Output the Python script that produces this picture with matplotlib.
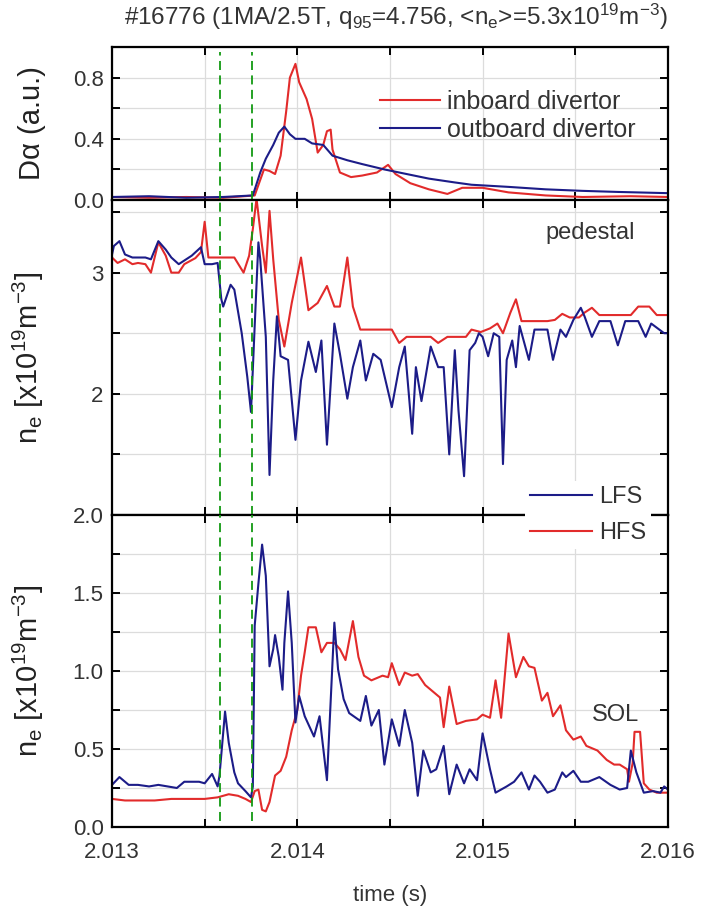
import numpy as np
import matplotlib
matplotlib.use("Agg")
import matplotlib.pyplot as plt
from matplotlib.ticker import MultipleLocator, FixedLocator, FormatStrFormatter

plt.rcParams['font.family'] = ['Liberation Sans', 'DejaVu Sans']
plt.rcParams['mathtext.fontset'] = 'custom'
plt.rcParams['mathtext.rm'] = 'Liberation Sans'
plt.rcParams['mathtext.it'] = 'Liberation Sans'

# D-alpha signals (a.u.)
t_inb = [2.01300, 2.01320, 2.01340, 2.01360, 2.01377, 2.01382, 2.01385, 2.01388, 2.01391,
         2.01394, 2.01396, 2.01399, 2.01401, 2.01405, 2.01408, 2.01411, 2.01414, 2.01416,
         2.01418, 2.01419, 2.01423, 2.01429, 2.01435, 2.01443, 2.01449, 2.01453, 2.01461,
         2.01471, 2.01481, 2.01489, 2.01500, 2.01514, 2.01534, 2.01554, 2.01580, 2.01600]
da_inb = [0.02, 0.015, 0.02, 0.015, 0.03, 0.20, 0.19, 0.17, 0.29, 0.58, 0.80, 0.89, 0.77,
          0.66, 0.53, 0.31, 0.36, 0.45, 0.46, 0.33, 0.18, 0.15, 0.16, 0.18, 0.23, 0.17,
          0.11, 0.07, 0.04, 0.08, 0.08, 0.05, 0.03, 0.02, 0.025, 0.02]

t_outb = [2.01300, 2.01320, 2.01340, 2.01360, 2.01376, 2.01380, 2.01383, 2.01387, 2.01390,
          2.01393, 2.01396, 2.01399, 2.01404, 2.01408, 2.01414, 2.01419, 2.01427, 2.01435,
          2.01447, 2.01459, 2.01471, 2.01485, 2.01494, 2.01514, 2.01534, 2.01554, 2.01573,
          2.01600]
da_outb = [0.02, 0.025, 0.015, 0.02, 0.03, 0.18, 0.27, 0.36, 0.44, 0.48, 0.43, 0.40, 0.40,
           0.37, 0.36, 0.29, 0.26, 0.235, 0.20, 0.17, 0.14, 0.115, 0.10, 0.086, 0.07, 0.06,
           0.053, 0.045]

# pedestal density (1e19 m^-3)
t_ped_hfs = [2.01300, 2.01303, 2.01307, 2.01311, 2.01314, 2.01318, 2.01321, 2.01325, 2.01329,
             2.01332, 2.01336, 2.01339, 2.01345, 2.01348, 2.01350, 2.01352, 2.01358, 2.01363,
             2.01366, 2.01371, 2.01374, 2.01376, 2.01378, 2.01381, 2.01383, 2.01385, 2.01387,
             2.01390, 2.01393, 2.01397, 2.01402, 2.01406, 2.01411, 2.01416, 2.01420, 2.01423,
             2.01427, 2.01430, 2.01434, 2.01440, 2.01451, 2.01455, 2.01459, 2.01472, 2.01476,
             2.01481, 2.01491, 2.01494, 2.01499, 2.01504, 2.01508, 2.01511, 2.01515, 2.01518,
             2.01521, 2.01535, 2.01539, 2.01543, 2.01547, 2.01552, 2.01555, 2.01559, 2.01563,
             2.01580, 2.01584, 2.01590, 2.01594, 2.01600]
ne_ped_hfs = [3.125, 3.08, 3.11, 3.07, 3.08, 3.07, 3.00, 3.25, 3.14, 3.00, 3.00, 3.07, 3.12,
              3.17, 3.42, 3.125, 3.125, 3.125, 3.125, 3.00, 3.14, 3.36, 3.61, 3.22, 3.00,
              3.51, 3.11, 2.61, 2.39, 2.75, 3.125, 2.69, 2.75, 2.89, 2.72, 2.72, 3.125, 2.72,
              2.53, 2.53, 2.53, 2.42, 2.47, 2.47, 2.42, 2.47, 2.47, 2.53, 2.51, 2.54, 2.58,
              2.50, 2.67, 2.78, 2.60, 2.60, 2.61, 2.66, 2.63, 2.63, 2.67, 2.71, 2.65, 2.65,
              2.72, 2.72, 2.65, 2.65]

t_ped_lfs = [2.01300, 2.01301, 2.01304, 2.01307, 2.01311, 2.01314, 2.01318, 2.01321, 2.01325,
             2.01329, 2.01332, 2.01336, 2.01339, 2.01343, 2.01348, 2.01350, 2.01354, 2.01357,
             2.01359, 2.01360, 2.01364, 2.01366, 2.01370, 2.01373, 2.01375, 2.01377, 2.01379,
             2.01380, 2.01383, 2.01385, 2.01387, 2.01389, 2.01391, 2.01395, 2.01399, 2.01402,
             2.01406, 2.01410, 2.01413, 2.01416, 2.01420, 2.01423, 2.01427, 2.01430, 2.01434,
             2.01437, 2.01441, 2.01445, 2.01451, 2.01455, 2.01458, 2.01462, 2.01464, 2.01467,
             2.01472, 2.01476, 2.01479, 2.01482, 2.01485, 2.01487, 2.01490, 2.01493, 2.01496,
             2.01498, 2.01500, 2.01503, 2.01506, 2.01509, 2.01511, 2.01513, 2.01516, 2.01518,
             2.01520, 2.01525, 2.01528, 2.01535, 2.01538, 2.01542, 2.01545, 2.01549, 2.01553,
             2.01555, 2.01559, 2.01563, 2.01569, 2.01573, 2.01577, 2.01584, 2.01588, 2.01591,
             2.01598, 2.01600]
ne_ped_lfs = [3.15, 3.22, 3.26, 3.15, 3.125, 3.125, 3.125, 3.11, 3.26, 3.19, 3.125, 3.07,
              3.10, 3.14, 3.21, 3.07, 3.07, 3.08, 2.78, 2.72, 2.90, 2.86, 2.50, 2.14, 1.85,
              2.56, 3.25, 3.11, 2.47, 1.33, 2.11, 2.64, 2.31, 2.28, 1.62, 2.11, 2.43, 2.18,
              2.44, 1.58, 2.58, 2.33, 1.96, 2.22, 2.44, 2.11, 2.33, 2.28, 1.89, 2.22, 2.39,
              1.67, 2.22, 1.94, 2.39, 2.22, 2.22, 1.50, 2.36, 1.86, 1.32, 2.36, 2.42, 2.50,
              2.47, 2.31, 2.50, 2.47, 1.42, 2.28, 2.44, 2.22, 2.56, 2.28, 2.53, 2.53, 2.28,
              2.53, 2.47, 2.61, 2.71, 2.64, 2.47, 2.60, 2.60, 2.40, 2.60, 2.60, 2.47, 2.58,
              2.50, 2.50]

# SOL density (1e19 m^-3)
t_sol_lfs = [2.01300, 2.01304, 2.01309, 2.01314, 2.01320, 2.01325, 2.01330, 2.01335, 2.01339,
             2.01347, 2.01350, 2.01354, 2.01357, 2.01358, 2.01361, 2.01363, 2.01366, 2.01368,
             2.01372, 2.01375, 2.01376, 2.01377, 2.01379, 2.01381, 2.01383, 2.01385, 2.01387,
             2.01388, 2.01390, 2.01392, 2.01393, 2.01395, 2.01397, 2.01399, 2.01401, 2.01404,
             2.01409, 2.01412, 2.01416, 2.01420, 2.01422, 2.01425, 2.01428, 2.01434, 2.01437,
             2.01440, 2.01444, 2.01447, 2.01451, 2.01455, 2.01458, 2.01462, 2.01465, 2.01468,
             2.01472, 2.01475, 2.01479, 2.01482, 2.01486, 2.01490, 2.01493, 2.01497, 2.01500,
             2.01504, 2.01507, 2.01513, 2.01517, 2.01521, 2.01525, 2.01528, 2.01531, 2.01535,
             2.01539, 2.01543, 2.01545, 2.01549, 2.01553, 2.01557, 2.01563, 2.01569, 2.01574,
             2.01578, 2.01580, 2.01583, 2.01587, 2.01592, 2.01596, 2.01598, 2.01600]
ne_sol_lfs = [0.27, 0.32, 0.27, 0.27, 0.26, 0.27, 0.26, 0.25, 0.29, 0.29, 0.28, 0.34, 0.26,
              0.33, 0.74, 0.54, 0.35, 0.28, 0.23, 0.19, 0.26, 1.29, 1.56, 1.81, 1.61, 1.03,
              1.14, 1.23, 1.09, 0.88, 1.18, 1.51, 1.18, 0.67, 0.84, 0.71, 0.58, 0.71, 0.30,
              1.31, 1.01, 0.82, 0.73, 0.68, 0.84, 0.65, 0.75, 0.40, 0.69, 0.52, 0.75, 0.54,
              0.20, 0.49, 0.35, 0.37, 0.52, 0.21, 0.40, 0.28, 0.37, 0.30, 0.60, 0.37, 0.22,
              0.26, 0.29, 0.35, 0.24, 0.33, 0.29, 0.22, 0.24, 0.35, 0.32, 0.36, 0.29, 0.29,
              0.32, 0.27, 0.24, 0.25, 0.49, 0.35, 0.22, 0.23, 0.22, 0.26, 0.24]

t_sol_hfs = [2.01300, 2.01307, 2.01314, 2.01323, 2.01332, 2.01341, 2.01350, 2.01357, 2.01363,
             2.01368, 2.01372, 2.01375, 2.01377, 2.01379, 2.01381, 2.01383, 2.01385, 2.01388,
             2.01391, 2.01394, 2.01397, 2.01400, 2.01402, 2.01404, 2.01406, 2.01410, 2.01413,
             2.01416, 2.01420, 2.01423, 2.01426, 2.01430, 2.01433, 2.01436, 2.01440, 2.01446,
             2.01449, 2.01451, 2.01455, 2.01458, 2.01462, 2.01465, 2.01469, 2.01473, 2.01477,
             2.01479, 2.01482, 2.01486, 2.01491, 2.01497, 2.01500, 2.01504, 2.01507, 2.01510,
             2.01514, 2.01518, 2.01522, 2.01525, 2.01528, 2.01532, 2.01535, 2.01538, 2.01542,
             2.01545, 2.01549, 2.01553, 2.01556, 2.01562, 2.01567, 2.01571, 2.01574, 2.01578,
             2.01579, 2.01581, 2.01582, 2.01585, 2.01587, 2.01590, 2.01594, 2.01600]
ne_sol_hfs = [0.18, 0.17, 0.17, 0.17, 0.18, 0.18, 0.18, 0.19, 0.21, 0.20, 0.18, 0.16, 0.23,
              0.24, 0.11, 0.10, 0.16, 0.33, 0.36, 0.45, 0.62, 0.75, 0.97, 1.12, 1.28, 1.28,
              1.12, 1.18, 1.18, 1.14, 1.07, 1.32, 1.09, 0.97, 0.94, 0.97, 0.96, 1.05, 0.91,
              0.99, 0.97, 0.98, 0.91, 0.87, 0.83, 0.64, 0.90, 0.66, 0.68, 0.69, 0.72, 0.70,
              0.94, 0.70, 1.24, 0.96, 1.09, 1.03, 1.02, 0.81, 0.86, 0.71, 0.78, 0.62, 0.56,
              0.58, 0.52, 0.49, 0.43, 0.40, 0.40, 0.37, 0.29, 0.41, 0.61, 0.61, 0.28, 0.24,
              0.22, 0.22]

t_marks = [2.013583, 2.013757]

red = '#e22b2b'
blue = '#1c1c88'
green = '#139a13'

fig = plt.figure(figsize=(7.09, 9.06), dpi=100)
ax1 = fig.add_axes([0.158, 0.7792, 0.784, 0.1689])
ax2 = fig.add_axes([0.158, 0.4316, 0.784, 0.3477])
ax3 = fig.add_axes([0.158, 0.0872, 0.784, 0.3444])

ax1.plot(t_inb, da_inb, color=red, lw=1.5, label='inboard divertor')
ax1.plot(t_outb, da_outb, color=blue, lw=1.5, label='outboard divertor')
ax2.plot(t_ped_hfs, ne_ped_hfs, color=red, lw=1.5)
ax2.plot(t_ped_lfs, ne_ped_lfs, color=blue, lw=1.5)
l_hfs, = ax3.plot(t_sol_hfs, ne_sol_hfs, color=red, lw=1.5)
l_lfs, = ax3.plot(t_sol_lfs, ne_sol_lfs, color=blue, lw=1.5)

for tm in t_marks:
    ax1.axvline(tm, ymin=0, ymax=0.97, color=green, lw=1.3, ls=(0, (5, 3)), zorder=5)
    ax2.axvline(tm, color=green, lw=1.3, ls=(0, (5, 3)), zorder=5)
    ax3.axvline(tm, ymin=0.02, ymax=1, color=green, lw=1.3, ls=(0, (5, 3)), zorder=5)

ax1.set_ylim(0, 1.0)
ax1.yaxis.set_major_locator(FixedLocator([0.0, 0.4, 0.8]))
ax1.yaxis.set_minor_locator(MultipleLocator(0.2))
ax1.yaxis.set_major_formatter(FormatStrFormatter('%.1f'))

ax2.set_ylim(1.0, 3.6)
ax2.yaxis.set_major_locator(FixedLocator([2, 3]))
ax2.yaxis.set_minor_locator(MultipleLocator(0.5))

ax3.set_ylim(0, 2.0)
ax3.yaxis.set_major_locator(MultipleLocator(0.5))
ax3.yaxis.set_minor_locator(MultipleLocator(0.25))
ax3.yaxis.set_major_formatter(FormatStrFormatter('%.1f'))

for ax in (ax1, ax2, ax3):
    ax.set_xlim(2.013, 2.016)
    ax.xaxis.set_major_locator(MultipleLocator(0.001))
    ax.xaxis.set_minor_locator(MultipleLocator(0.0005))
    ax.grid(which='both', color='#dcdcdc', lw=0.9)
    ax.set_axisbelow(True)
    ax.tick_params(which='both', direction='in', top=True, right=True, length=6, width=1.4,
                   labelsize=16, labelcolor='#333333', pad=6)
    for s in ax.spines.values():
        s.set_linewidth(1.6)
ax1.tick_params(labelbottom=False)
ax2.tick_params(labelbottom=False)
ax3.tick_params(axis='x', pad=11)
ax3.xaxis.set_major_formatter(FormatStrFormatter('%.3f'))

ax1.set_ylabel('D\u03b1 (a.u.)', fontsize=21, color='#222222')
ax2.set_ylabel(r'n$_e$ [x10$^{19}$m$^{-3}$]', fontsize=21, color='#222222')
ax3.set_ylabel(r'n$_e$ [x10$^{19}$m$^{-3}$]', fontsize=21, color='#222222')
for ax in (ax1, ax2, ax3):
    ax.yaxis.set_label_coords(-0.118, 0.5)
ax3.set_xlabel('time (s)', fontsize=16, color='#333333', labelpad=16)

ax1.legend(loc='upper right', bbox_to_anchor=(0.965, 0.8), frameon=False, fontsize=18,
           handlelength=2.4, labelspacing=0.15, borderpad=0, handletextpad=0.3,
           labelcolor='#333333')
leg = ax3.legend([l_lfs, l_hfs], ['LFS', 'HFS'], loc='center right',
                 bbox_to_anchor=(0.99, 1.0), fontsize=17, handlelength=2.6,
                 labelspacing=0.6, handletextpad=0.3, fancybox=False, framealpha=1,
                 facecolor='white', edgecolor='none', borderpad=0.2, labelcolor='#333333')
leg.set_zorder(10)

ax2.text(0.86, 0.895, 'pedestal', transform=ax2.transAxes, ha='center', va='center',
         fontsize=17, color='#333333')
ax3.text(0.905, 0.359, 'SOL', transform=ax3.transAxes, ha='center', va='center',
         fontsize=17, color='#333333')

fig.text(0.558, 0.981, r'#16776 (1MA/2.5T, q$_{95}$=4.756, <n$_e$>=5.3x10$^{19}$m$^{-3}$)',
         ha='center', va='center', fontsize=17.5, color='#333333')

fig.savefig('out.png', dpi=100)
